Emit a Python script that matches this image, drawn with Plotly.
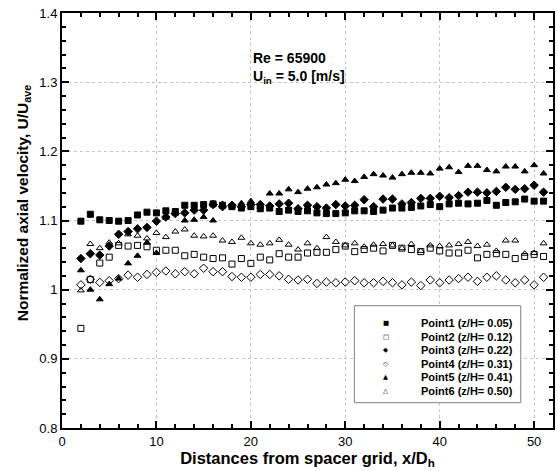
import plotly.graph_objects as go

x_vals = list(range(2, 52))

point1 = [1.099, 1.109, 1.101, 1.100, 1.099, 1.100, 1.108, 1.112, 1.111, 1.114,
          1.113, 1.122, 1.122, 1.123, 1.124, 1.122, 1.120, 1.118, 1.120, 1.117,
          1.118, 1.113, 1.115, 1.113, 1.114, 1.111, 1.110, 1.110, 1.111, 1.114,
          1.114, 1.113, 1.115, 1.118, 1.118, 1.119, 1.121, 1.123, 1.120, 1.124,
          1.125, 1.124, 1.125, 1.129, 1.122, 1.126, 1.127, 1.131, 1.128, 1.128]
point2 = [0.944, 1.0145, 1.0385, 1.047, 1.064, 1.063, 1.064, 1.062, 1.057, 1.057,
          1.057, 1.049, 1.051, 1.047, 1.045, 1.046, 1.037, 1.045, 1.038, 1.047,
          1.043, 1.052, 1.047, 1.047, 1.053, 1.054, 1.054, 1.058, 1.063, 1.055,
          1.058, 1.060, 1.056, 1.064, 1.060, 1.058, 1.055, 1.060, 1.056, 1.053,
          1.053, 1.057, 1.046, 1.051, 1.052, 1.051, 1.045, 1.048, 1.051, 1.048]
point3 = [1.045, 1.052, 1.050, 1.063, 1.080, 1.084, 1.088, 1.090, 1.099, 1.105,
          1.110, 1.111, 1.115, 1.115, 1.123, 1.120, 1.122, 1.120, 1.123, 1.123,
          1.121, 1.124, 1.125, 1.117, 1.122, 1.120, 1.118, 1.123, 1.121, 1.122,
          1.130, 1.120, 1.131, 1.131, 1.124, 1.126, 1.132, 1.132, 1.135, 1.133,
          1.136, 1.141, 1.141, 1.140, 1.142, 1.148, 1.145, 1.146, 1.151, 1.141]
point4 = [1.007, 1.015, 1.0106, 1.013, 1.016, 1.021, 1.018, 1.022, 1.025, 1.027,
          1.023, 1.026, 1.023, 1.031, 1.026, 1.026, 1.019, 1.018, 1.018, 1.022,
          1.022, 1.020, 1.015, 1.014, 1.015, 1.009, 1.011, 1.010, 1.011, 1.013,
          1.010, 1.010, 1.012, 1.010, 1.007, 1.011, 1.006, 1.014, 1.010, 1.014,
          1.016, 1.018, 1.012, 1.018, 1.020, 1.014, 1.010, 1.014, 1.007, 1.018]
point5 = [1.028, 1.000, 0.986, 1.008, 1.016, 1.038, 1.049, 1.068, 1.053, 1.104,
          1.110, 1.100, 1.101, 1.105, 1.100, 1.124, 1.121, 1.125, 1.128, 1.120,
          1.139, 1.139, 1.145, 1.141, 1.146, 1.148, 1.152, 1.154, 1.159, 1.157,
          1.163, 1.167, 1.165, 1.162, 1.167, 1.169, 1.169, 1.168, 1.175, 1.177,
          1.170, 1.179, 1.179, 1.173, 1.171, 1.178, 1.178, 1.171, 1.180, 1.168]
point6 = [0.999, 1.066, 1.060, 1.068, 1.067, 1.080, 1.078, 1.074, 1.082, 1.076,
          1.084, 1.087, 1.078, 1.077, 1.078, 1.071, 1.069, 1.075, 1.067, 1.065,
          1.067, 1.072, 1.065, 1.058, 1.067, 1.060, 1.076, 1.069, 1.064, 1.067,
          1.062, 1.065, 1.066, 1.064, 1.060, 1.066, 1.056, 1.064, 1.063, 1.064,
          1.066, 1.069, 1.063, 1.065, 1.056, 1.071, 1.071, 1.052, 1.053, 1.067]

names = ["Point1 (z/H= 0.05)", "Point2 (z/H= 0.12)", "Point3 (z/H= 0.22)",
         "Point4 (z/H= 0.31)", "Point5 (z/H= 0.41)", "Point6 (z/H= 0.50)"]
series = [point1, point2, point3, point4, point5, point6]
symbols = ["square", "square-open", "diamond", "diamond-open", "triangle-up", "triangle-up-open"]
sizes = [6, 6, 6.5, 6.5, 6, 6]
glyphs = ["\u25A0", "\u25A1", "\u25C6", "\u25C7", "\u25B2", "\u25B3"]

fig = go.Figure()
for name, ys, sym, sz in zip(names, series, symbols, sizes):
    fig.add_trace(go.Scatter(
        x=x_vals, y=ys, mode="markers", name=name, showlegend=False,
        marker=dict(symbol=sym, size=sz, color="black",
                    line=dict(color="black", width=1)),
    ))

FONT = "Liberation Sans, Arial, sans-serif"
axis_common = dict(
    showline=True, linecolor="black", linewidth=2, mirror="ticks",
    ticks="inside", ticklen=7, tickwidth=1.5, tickcolor="black",
    showgrid=True, gridcolor="#c4c4c4", griddash="dot", gridwidth=1,
    zeroline=False,
    tickfont=dict(family=FONT, size=13, color="black"),
)

fig.update_xaxes(
    range=[0, 52], dtick=10, tick0=0,
    minor=dict(dtick=2, ticks="inside", ticklen=4, tickcolor="black", showgrid=False),
    title=dict(text="<b>Distances from spacer grid, x/D<sub>h</sub></b>",
               font=dict(family=FONT, size=16.5, color="black"), standoff=2),
    **axis_common,
)
fig.update_yaxes(
    range=[0.8, 1.4], dtick=0.1, tick0=0.8,
    minor=dict(dtick=0.02, ticks="inside", ticklen=4, tickcolor="black", showgrid=False),
    **axis_common,
)

# y-axis title (placed as rotated text, centred where the reference has it)
fig.add_annotation(
    x=-0.0791, y=0.542, xref="paper", yref="paper", xanchor="center", yanchor="middle",
    text="<b>Normalized axial velocity, U/U<sub>ave</sub></b>", showarrow=False,
    textangle=-90, font=dict(family=FONT, size=15.5, color="black"),
)

# Re / U_in annotation
fig.add_annotation(
    x=0.385, y=0.915, xref="paper", yref="paper", xanchor="left", yanchor="top",
    text="<b>Re = 65900</b>", showarrow=False,
    align="left", font=dict(family=FONT, size=14, color="black"),
)
fig.add_annotation(
    x=0.385, y=0.872, xref="paper", yref="paper", xanchor="left", yanchor="top",
    text="<b>U<sub>in</sub> = 5.0 [m/s]</b>", showarrow=False,
    align="left", font=dict(family=FONT, size=14, color="black"),
)

# legend box built from text
fig.add_shape(type="rect", xref="paper", yref="paper",
              x0=0.5955, x1=0.9343, y0=0.061, y1=0.2947,
              line=dict(color="#808080", width=1), fillcolor="white", layer="above")
row_px = [323, 336.5, 350, 363.5, 377, 390.5]
for i, (name, g) in enumerate(zip(names, glyphs)):
    yp = (428 - row_px[i]) / 415
    fig.add_annotation(x=0.659, y=yp, xref="paper", yref="paper", text=g,
                       showarrow=False, xanchor="center", yanchor="middle",
                       font=dict(family="DejaVu Sans", size=6.5, color="black"))
    fig.add_annotation(x=0.728, y=yp, xref="paper", yref="paper", text="<b>" + name + "</b>",
                       showarrow=False, xanchor="left", yanchor="middle",
                       font=dict(family=FONT, size=11, color="black"))

fig.update_layout(
    width=557, height=471,
    margin=dict(l=62, r=2, t=13, b=43),
    paper_bgcolor="white", plot_bgcolor="white",
    showlegend=False,
)

fig.write_html("out.html", config={"displayModeBar": False},
               post_script="document.body.style.margin='0';document.body.style.overflow='hidden';")
